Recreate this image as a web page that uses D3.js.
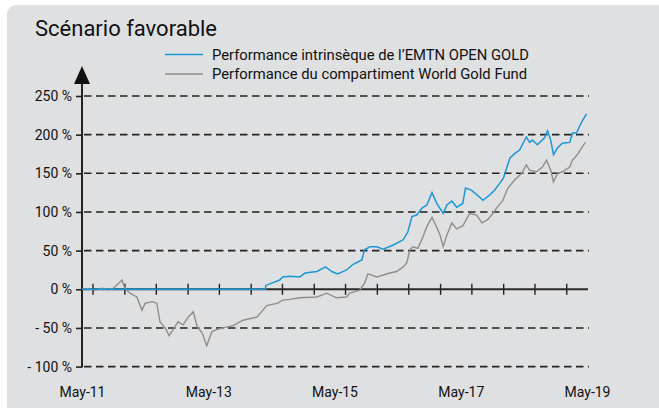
<!DOCTYPE html>
<html>
<head>
<meta charset="utf-8">
<script src="https://cdn.jsdelivr.net/npm/d3@7"></script>
<style>
    html, body { margin: 0; padding: 0; background: #ffffff; }
    #chart { width: 659px; height: 408px; }
    text { font-family: Roboto, "DejaVu Sans", sans-serif; fill: #111; }
</style>
</head>
<body>
<div id="chart"></div>
<script>
// values (performance in %)
const seriesNames = ["Performance intrinsèque de l’EMTN OPEN GOLD", "Performance du compartiment World Gold Fund"];

const fundDates = ["2011-05-01", "2011-06-05", "2011-07-15", "2011-08-25", "2011-09-28", "2011-10-28", "2011-11-20", "2011-12-18",
    "2012-01-05", "2012-02-03", "2012-03-13", "2012-04-12", "2012-05-01", "2012-06-10", "2012-07-07", "2012-07-25",
    "2012-08-24", "2012-09-16", "2012-10-10", "2012-11-07", "2012-12-06", "2013-01-04", "2013-02-03", "2013-02-25",
    "2013-03-25", "2013-04-22", "2013-05-21", "2013-06-19", "2013-07-25", "2013-09-21", "2013-11-18", "2014-02-06",
    "2014-04-04", "2014-06-07", "2014-07-06", "2014-08-15", "2014-10-12", "2015-01-19", "2015-02-24", "2015-03-16",
    "2015-05-13", "2015-07-10", "2015-07-28", "2015-09-24", "2015-10-22", "2015-11-10", "2016-01-01", "2016-03-16",
    "2016-04-25", "2016-06-01", "2016-06-22", "2016-07-10", "2016-07-28", "2016-08-25", "2016-09-24", "2016-10-16",
    "2016-11-15", "2016-12-13", "2017-01-01", "2017-01-19", "2017-02-09", "2017-03-10", "2017-04-07", "2017-05-12",
    "2017-06-21", "2017-08-01", "2017-08-31", "2017-10-03", "2017-11-02", "2017-11-30", "2017-12-30", "2018-01-28",
    "2018-03-07", "2018-04-18", "2018-05-15", "2018-06-03", "2018-07-12", "2018-08-16", "2018-09-09", "2018-10-03",
    "2018-10-19", "2018-11-12", "2018-12-10", "2019-01-21", "2019-02-06", "2019-03-06", "2019-04-03", "2019-04-22"];
const fundValues = [0, 1, -1, 1.5, 0, 1, 6, 12,
    1, -5, -10, -27, -18, -16, -18, -42,
    -50, -60, -52, -42, -46, -36, -29, -48,
    -56, -73, -55, -52, -50, -47, -40, -36,
    -21, -18, -14, -13, -11, -10, -7, -5,
    -11, -10, -5, -1, 8, 20, 16, 21,
    23, 29, 34, 51, 55, 53, 68, 81,
    93, 80, 70, 55, 70, 86, 78, 82,
    98, 96, 86, 90, 98, 107, 115, 131,
    141, 150, 161, 154, 152, 158, 167, 154,
    139, 150, 152, 158, 167, 174, 184, 190];

const emtnDates = ["2011-05-01", "2014-03-28", "2014-03-29", "2014-05-03", "2014-06-18", "2014-07-06", "2014-08-15", "2014-10-12",
    "2014-11-12", "2015-01-19", "2015-03-10", "2015-04-15", "2015-05-19", "2015-07-10", "2015-08-15", "2015-10-06",
    "2015-10-22", "2015-11-22", "2016-01-01", "2016-02-06", "2016-04-03", "2016-06-01", "2016-06-28", "2016-07-22",
    "2016-08-19", "2016-09-18", "2016-10-16", "2016-11-15", "2016-12-13", "2017-01-19", "2017-02-09", "2017-03-10",
    "2017-04-07", "2017-05-12", "2017-05-28", "2017-07-03", "2017-08-18", "2017-09-06", "2017-10-15", "2017-11-12",
    "2017-12-12", "2018-01-03", "2018-02-09", "2018-03-12", "2018-04-06", "2018-05-15", "2018-06-03", "2018-06-19",
    "2018-07-18", "2018-08-28", "2018-09-15", "2018-10-03", "2018-10-19", "2018-11-12", "2018-12-10", "2019-01-21",
    "2019-02-06", "2019-03-01", "2019-04-01", "2019-04-10", "2019-04-28"];
const emtnValues = [0, 0, 5, 8, 12, 16, 17, 16,
    21, 23, 29, 23, 20, 25, 32, 38,
    51, 55, 55, 52, 57, 64, 74, 94,
    96, 105, 109, 125, 111, 98, 109, 114,
    106, 111, 131, 128, 119, 115, 122, 128,
    137, 144, 170, 176, 180, 197, 190, 193,
    187, 196, 205, 193, 174, 183, 189, 190,
    202, 202, 217, 220, 227];

const yTicks = [-100, -50, 0, 50, 100, 150, 200, 250];
const yTickLabels = ["- 100 %", "- 50 %", "0 %", "50 %", "100 %", "150 %", "200 %", "250 %"];
const xLabelDates = ["2011-05-01", "2013-05-01", "2015-05-01", "2017-05-01", "2019-05-01"];
const xLabels = ["May-11", "May-13", "May-15", "May-17", "May-19"];

class PerfChart {
    constructor(parentElement) {
        this.parentElement = parentElement;
        this.parseDate = d3.timeParse("%Y-%m-%d");
        this.initVis();
    }

    initVis() {
        let vis = this;

        vis.width = 659;
        vis.height = 408;
        vis.margin = { top: 96, right: 71, bottom: 41.4, left: 82 };

        vis.svg = d3.select("#" + vis.parentElement).append("svg")
            .attr("width", vis.width)
            .attr("height", vis.height);

        // grey panel behind everything
        vis.svg.append("rect")
            .attr("x", 7).attr("y", 5)
            .attr("width", 720).attr("height", 460)
            .attr("rx", 9)
            .attr("fill", "#dfe0e2");

        vis.svg.append("text")
            .attr("x", 35).attr("y", 36)
            .style("font-size", "22px")
            .text("Scénario favorable");

        vis.x = d3.scaleTime()
            .domain([vis.parseDate("2011-05-01"), vis.parseDate("2019-05-01")])
            .range([vis.margin.left, vis.width - vis.margin.right - 1]);
        vis.y = d3.scaleLinear()
            .domain([-100, 250])
            .range([vis.height - vis.margin.bottom, vis.margin.top]);

        vis.drawAxes();
        vis.drawLines();
        vis.drawLegend();
    }

    drawAxes() {
        let vis = this;
        const x0 = vis.margin.left;
        const x1 = vis.x.range()[1] + 2;

        // dashed grid
        vis.svg.append("g")
            .selectAll("line")
            .data(yTicks.filter(d => d !== 0))
            .join("line")
            .attr("x1", x0).attr("x2", x1)
            .attr("y1", d => vis.y(d)).attr("y2", d => vis.y(d))
            .attr("stroke", "#222")
            .attr("stroke-width", 1.6)
            .attr("stroke-dasharray", "7.5,4.5")
            .attr("stroke-dashoffset", -2);

        // y axis with labels
        const yAxis = d3.axisLeft(vis.y)
            .tickValues(yTicks)
            .tickSize(6)
            .tickPadding(4)
            .tickFormat((d, i) => yTickLabels[i]);
        const gy = vis.svg.append("g")
            .attr("transform", `translate(${x0},0)`)
            .call(yAxis);
        gy.select(".domain").remove();
        gy.selectAll(".tick line").attr("stroke", "#222").attr("stroke-width", 1.6);
        gy.selectAll("text")
            .style("font-size", "14px")
            .style("font-family", "Roboto, sans-serif")
            .attr("fill", "#111");

        vis.svg.append("line")
            .attr("x1", x0).attr("x2", x0)
            .attr("y1", vis.y(-100) + 0.8).attr("y2", 80)
            .attr("stroke", "#222")
            .attr("stroke-width", 2);
        vis.svg.append("path")
            .attr("d", `M${x0},66 L${x0 + 8},84 L${x0 - 8},84 Z`)
            .attr("fill", "#111");

        // zero line with half-year ticks crossing it
        const zeroAxis = d3.axisBottom(vis.x)
            .ticks(d3.timeMonth.every(6))
            .tickSize(11)
            .tickFormat("");
        const gz = vis.svg.append("g")
            .attr("transform", `translate(0,${vis.y(0) - 5.5})`)
            .call(zeroAxis);
        gz.select(".domain").remove();
        gz.selectAll(".tick line")
            .attr("stroke", "#222")
            .attr("stroke-width", 1.4)
            .filter(d => +d === +vis.x.domain()[0]).remove();
        vis.svg.append("line")
            .attr("x1", x0).attr("x2", x1 - 1)
            .attr("y1", vis.y(0)).attr("y2", vis.y(0))
            .attr("stroke", "#2a2a2a")
            .attr("stroke-width", 2);

        // date labels under the chart
        const xAxis = d3.axisBottom(vis.x)
            .tickValues(xLabelDates.map(vis.parseDate))
            .tickSize(0)
            .tickPadding(20)
            .tickFormat((d, i) => xLabels[i]);
        const gx = vis.svg.append("g")
            .attr("transform", `translate(0,${vis.y(-100)})`)
            .call(xAxis);
        gx.select(".domain").remove();
        gx.selectAll("text")
            .style("font-size", "14px")
            .style("font-family", "Roboto, sans-serif")
            .attr("fill", "#111");
    }

    drawLines() {
        let vis = this;
        const line = d3.line()
            .x(d => vis.x(d[0]))
            .y(d => vis.y(d[1]));

        const fund = fundDates.map((d, i) => [vis.parseDate(d), fundValues[i]]);
        const emtn = emtnDates.map((d, i) => [vis.parseDate(d), emtnValues[i]]);

        vis.svg.append("path")
            .datum(fund)
            .attr("d", line)
            .attr("fill", "none")
            .attr("stroke", "#8e8e8e")
            .attr("stroke-width", 1.4);

        vis.svg.append("path")
            .datum(emtn)
            .attr("d", line)
            .attr("fill", "none")
            .attr("stroke", "#1996d4")
            .attr("stroke-width", 1.5);
    }

    drawLegend() {
        let vis = this;
        const colors = ["#1996d4", "#8e8e8e"];
        const rows = vis.svg.append("g")
            .selectAll("g")
            .data(seriesNames)
            .join("g")
            .attr("transform", (d, i) => `translate(165,${54.5 + i * 19.5})`);
        rows.append("line")
            .attr("x1", 0).attr("x2", 38)
            .attr("stroke", (d, i) => colors[i])
            .attr("stroke-width", 1.3);
        rows.append("text")
            .attr("x", 47)
            .attr("dy", "0.35em")
            .style("font-size", "14.8px")
            .text(d => d);
    }
}

new PerfChart("chart");
</script>
</body>
</html>
